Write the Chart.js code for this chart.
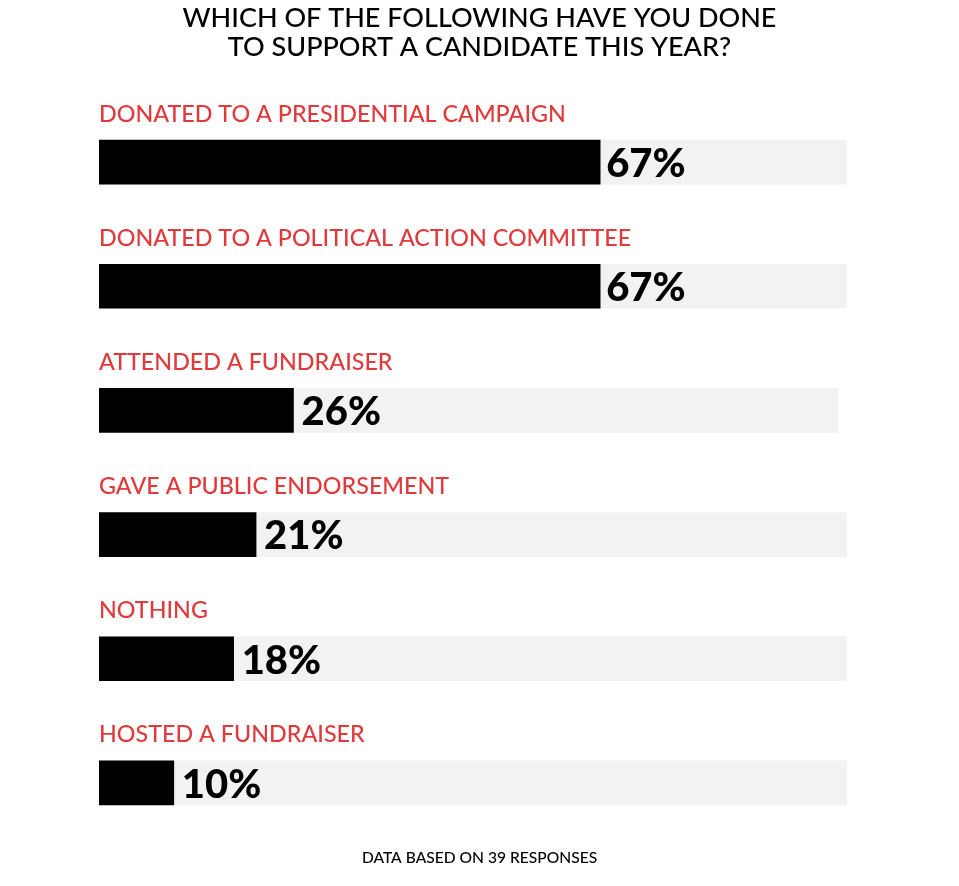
<!DOCTYPE html>
<html>
<head>
<meta charset="utf-8">
<script src="https://cdn.jsdelivr.net/npm/chart.js@4"></script>
<style>
  html, body { margin: 0; padding: 0; background: #fff; }
  #wrap { width: 959px; height: 886px; }
</style>
</head>
<body>
<div id="wrap"><canvas id="grafico"></canvas></div>
<script>
// dados
var categorias = [
  "DONATED TO A PRESIDENTIAL CAMPAIGN",
  "DONATED TO A POLITICAL ACTION COMMITTEE",
  "ATTENDED A FUNDRAISER",
  "GAVE A PUBLIC ENDORSEMENT",
  "NOTHING",
  "HOSTED A FUNDRAISER"
];
var valores = [67, 67, 26, 21, 18, 10];
var fundo = [100, 100, 98.8, 100, 100, 100];
var titulo = ["WHICH OF THE FOLLOWING HAVE YOU DONE", "TO SUPPORT A CANDIDATE THIS YEAR?"];
var rodape = "DATA BASED ON 39 RESPONSES";

var vermelho = "#e03a3c";

// desenha titulo, rotulos de categoria e percentuais
var textos = {
  id: "textos",
  afterDatasetsDraw: function (chart) {
    var ctx = chart.ctx;
    var x = chart.scales.x;
    var y = chart.scales.y;
    var area = chart.chartArea;
    ctx.save();
    ctx.textBaseline = "middle";

    for (var i = 0; i < categorias.length; i++) {
      var yc = y.getPixelForValue(i);
      ctx.fillStyle = vermelho;
      ctx.font = "500 23.3px Lato";
      ctx.textAlign = "left";
      ctx.fillText(categorias[i], area.left, yc - 48);

      ctx.fillStyle = "#000";
      ctx.font = "900 40px Lato";
      var dx = i < 2 ? 6 : 8;
      ctx.fillText(valores[i] + "%", x.getPixelForValue(valores[i]) + dx, yc + 2);
    }

    ctx.textAlign = "center";
    ctx.fillStyle = "#000";
    ctx.font = "500 27px Lato";
    ctx.fillText(titulo[0], chart.width / 2, 18);
    ctx.fillText(titulo[1], chart.width / 2, 47);

    ctx.font = "500 15.6px Lato";
    ctx.fillText(rodape, chart.width / 2, 858);
    ctx.restore();
  }
};

const config = {
  type: "bar",
  data: {
    labels: categorias,
    datasets: [
      {
        label: "valor",
        data: valores,
        backgroundColor: "#000",
        barThickness: 44,
        grouped: false,
        order: 0
      },
      {
        label: "fundo",
        data: fundo,
        backgroundColor: "#f2f2f2",
        barThickness: 44,
        grouped: false,
        order: 1
      }
    ]
  },
  options: {
    indexAxis: "y",
    responsive: true,
    maintainAspectRatio: false,
    animation: false,
    layout: {
      padding: { left: 99, right: 112, top: 100, bottom: 41 }
    },
    scales: {
      x: { min: 0, max: 100, display: false },
      y: { display: false }
    },
    plugins: {
      legend: { display: false },
      tooltip: { enabled: false }
    }
  },
  plugins: [textos]
};

let grafico = new Chart(document.getElementById("grafico"), config);
</script>
</body>
</html>
